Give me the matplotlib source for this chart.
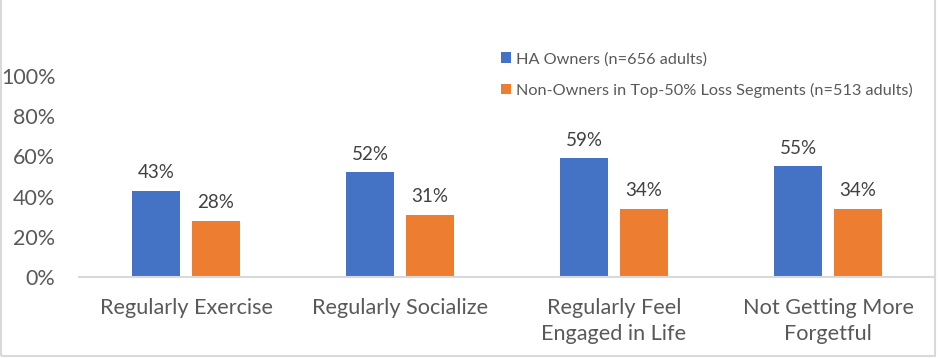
import numpy as np
import matplotlib
matplotlib.use("Agg")
import matplotlib.pyplot as plt
from matplotlib.patches import Rectangle

plt.rcParams["font.family"] = ["Lato", "DejaVu Sans"]

# Chart data
categories = ["Regularly Exercise", "Regularly Socialize",
              "Regularly Feel\nEngaged in Life", "Not Getting More\nForgetful"]
owners = [43, 52, 59, 55]
non_owners = [28, 31, 34, 34]
series_names = ["HA Owners (n=656 adults)",
                "Non-Owners in Top-50% Loss Segments (n=513 adults)"]
yticks = [0, 20, 40, 60, 80, 100]

blue = "#4472C4"
orange = "#ED7D31"
text_gray = "#595959"
line_gray = "#D9D9D9"

fig = plt.figure(figsize=(9.38, 3.58), dpi=100)
ax = fig.add_axes([79 / 938, 1 - 277 / 358, (935 - 79) / 938, 201 / 358])

x = np.arange(len(categories))
w = 0.224
off = 0.14
b1 = ax.bar(x - off, owners, w, color=blue, label=series_names[0])
b2 = ax.bar(x + off, non_owners, w, color=orange, label=series_names[1])

for bars in (b1, b2):
    for b in bars:
        ax.annotate(f"{b.get_height():.0f}%",
                    (b.get_x() + b.get_width() / 2, b.get_height()),
                    xytext=(0, 7), textcoords="offset points",
                    ha="center", va="bottom", fontsize=13.5, color="#404040")

ax.set_xlim(-0.5, len(categories) - 0.5)
ax.set_ylim(0, 100)
ax.set_yticks(yticks)
ax.set_yticklabels([f"{v}%" for v in yticks], fontsize=15.5, color=text_gray)
ax.set_xticks(x)
ax.set_xticklabels(categories, fontsize=15.6, color=text_gray, va="top",
                   linespacing=1.4)
ax.tick_params(axis="both", length=0)
ax.tick_params(axis="y", pad=17)
ax.tick_params(axis="x", pad=15)

for s in ["top", "right", "left"]:
    ax.spines[s].set_visible(False)
ax.spines["bottom"].set_color(line_gray)
ax.spines["bottom"].set_linewidth(1.5)

leg = fig.legend(handles=[b1, b2], loc="upper left",
                 bbox_to_anchor=(501 / 938, 1 - 52 / 358),
                 frameon=False, fontsize=11.7, handlelength=0.6,
                 handleheight=0.6, handletextpad=0.35, labelspacing=1.0,
                 borderaxespad=0, borderpad=0)
for t in leg.get_texts():
    t.set_color(text_gray)

# outer chart border
fig.patches.append(Rectangle((1 / 938, 2 / 358), 934 / 938, 1.2,
                             transform=fig.transFigure, fill=False,
                             edgecolor=line_gray, linewidth=1.5))

fig.savefig("out.png", dpi=100)
